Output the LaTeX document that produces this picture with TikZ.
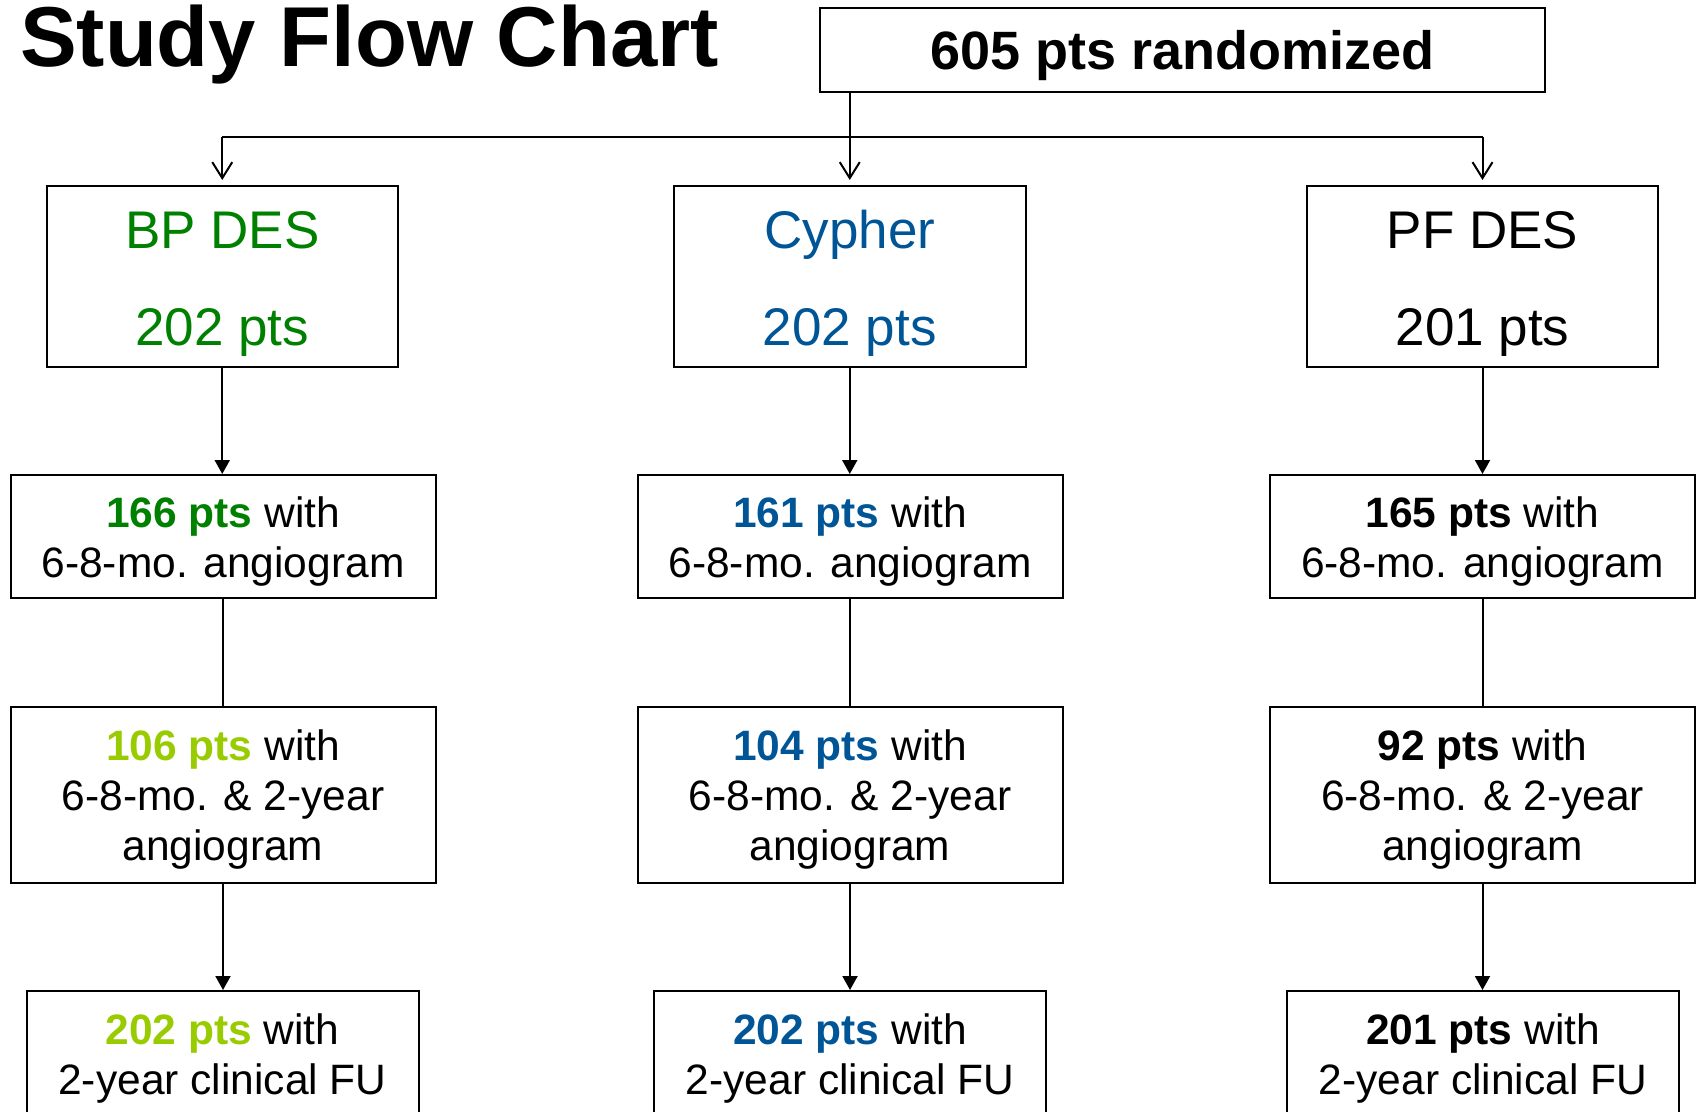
\documentclass[tikz,border=0pt]{standalone}
\usepackage{fontspec}
\setmainfont{Liberation Sans}
\usetikzlibrary{arrows.meta}
\definecolor{dkgreen}{RGB}{0,128,0}
\definecolor{ltgreen}{RGB}{153,204,0}
\definecolor{cyblue}{RGB}{0,85,150}
\newcommand\tup[1]{\rule{0pt}{#1}}
\begin{document}
\begin{tikzpicture}[x=0.5pt,y=-0.5pt, line width=1pt,
  box/.style={draw=black, line width=1pt, inner sep=0pt, align=center, text=black},
  topbox/.style={box, minimum width=362.5pt, minimum height=42.25pt, font=\bfseries\fontsize{27}{32}\selectfont},
  rowone/.style={box, minimum width=175.75pt, minimum height=90.5pt, font=\fontsize{26.5}{48.6}\selectfont},
  rowtwo/.style={box, minimum width=212.5pt, minimum height=61.5pt, font=\fontsize{21.25}{25}\selectfont},
  rowthree/.style={box, minimum width=212.5pt, minimum height=88pt, font=\fontsize{21.25}{25}\selectfont},
  rowfour/.style={box, minimum width=196pt, minimum height=61.5pt, font=\fontsize{21.25}{25}\selectfont},
  openarr/.style={-{Straight Barb[length=8pt,width=10pt]}, shorten >=2.5pt},
  fillarr/.style={-{Triangle[length=7pt,width=7.5pt]}}
]
\useasboundingbox (0,0) rectangle (1696,1112);
\clip (0,0) rectangle (1696,1112);

\node[anchor=base west, inner sep=0pt, font=\bfseries\fontsize{42.5}{48}\selectfont] (title) at (19,67) {Study Flow Chart};

\node[topbox] (top) at (1182.5,50) {\tup{25pt}605 pts randomized};

\node[rowone, text=dkgreen] (r1a) at (222.25,276.5) {\tup{26pt}BP DES\\202 pts};
\node[rowone, text=cyblue] (r1b) at (849.75,276.5) {\tup{26pt}Cypher\\202 pts};
\node[rowone] (r1c) at (1482.5,276.5) {\tup{26pt}PF DES\\201 pts};

\node[rowtwo] (r2a) at (223,536.5) {\tup{20.5pt}{\bfseries\color{dkgreen}166 pts} with\\6-8-mo. angiogram};
\node[rowtwo] (r2b) at (850,536.5) {\tup{20.5pt}{\bfseries\color{cyblue}161 pts} with\\6-8-mo. angiogram};
\node[rowtwo] (r2c) at (1482.5,536.5) {\tup{20.5pt}{\bfseries 165 pts} with\\6-8-mo. angiogram};

\node[rowthree] (r3a) at (223,795) {\tup{20pt}{\bfseries\color{ltgreen}106 pts} with\\6-8-mo. \& 2-year\\angiogram};
\node[rowthree] (r3b) at (850,795) {\tup{20pt}{\bfseries\color{cyblue}104 pts} with\\6-8-mo. \& 2-year\\angiogram};
\node[rowthree] (r3c) at (1482.5,795) {\tup{20pt}{\bfseries 92 pts} with\\6-8-mo. \& 2-year\\angiogram};

\node[rowfour] (r4a) at (222.5,1052.5) {\tup{21pt}{\bfseries\color{ltgreen}202 pts} with\\2-year clinical FU};
\node[rowfour] (r4b) at (850,1052.5) {\tup{21pt}{\bfseries\color{cyblue}202 pts} with\\2-year clinical FU};
\node[rowfour] (r4c) at (1483,1052.5) {\tup{21pt}{\bfseries 201 pts} with\\2-year clinical FU};

\coordinate (hl) at (0,137);
\draw[openarr] (top.south -| r1b.north) -- (r1b.north);
\draw (r1a.north |- hl) -- (r1c.north |- hl);
\draw[openarr] (r1a.north |- hl) -- (r1a.north);
\draw[openarr] (r1c.north |- hl) -- (r1c.north);

\draw[fillarr] (r1a.south) -- (r1a.south |- r2a.north);
\draw[fillarr] (r1b.south) -- (r1b.south |- r2b.north);
\draw[fillarr] (r1c.south) -- (r1c.south |- r2c.north);

\draw (r2a.south) -- (r3a.north);
\draw (r2b.south) -- (r3b.north);
\draw (r2c.south) -- (r3c.north);

\draw[fillarr] (r3a.south) -- (r3a.south |- r4a.north);
\draw[fillarr] (r3b.south) -- (r3b.south |- r4b.north);
\draw[fillarr] (r3c.south) -- (r3c.south |- r4c.north);
\end{tikzpicture}
\end{document}
